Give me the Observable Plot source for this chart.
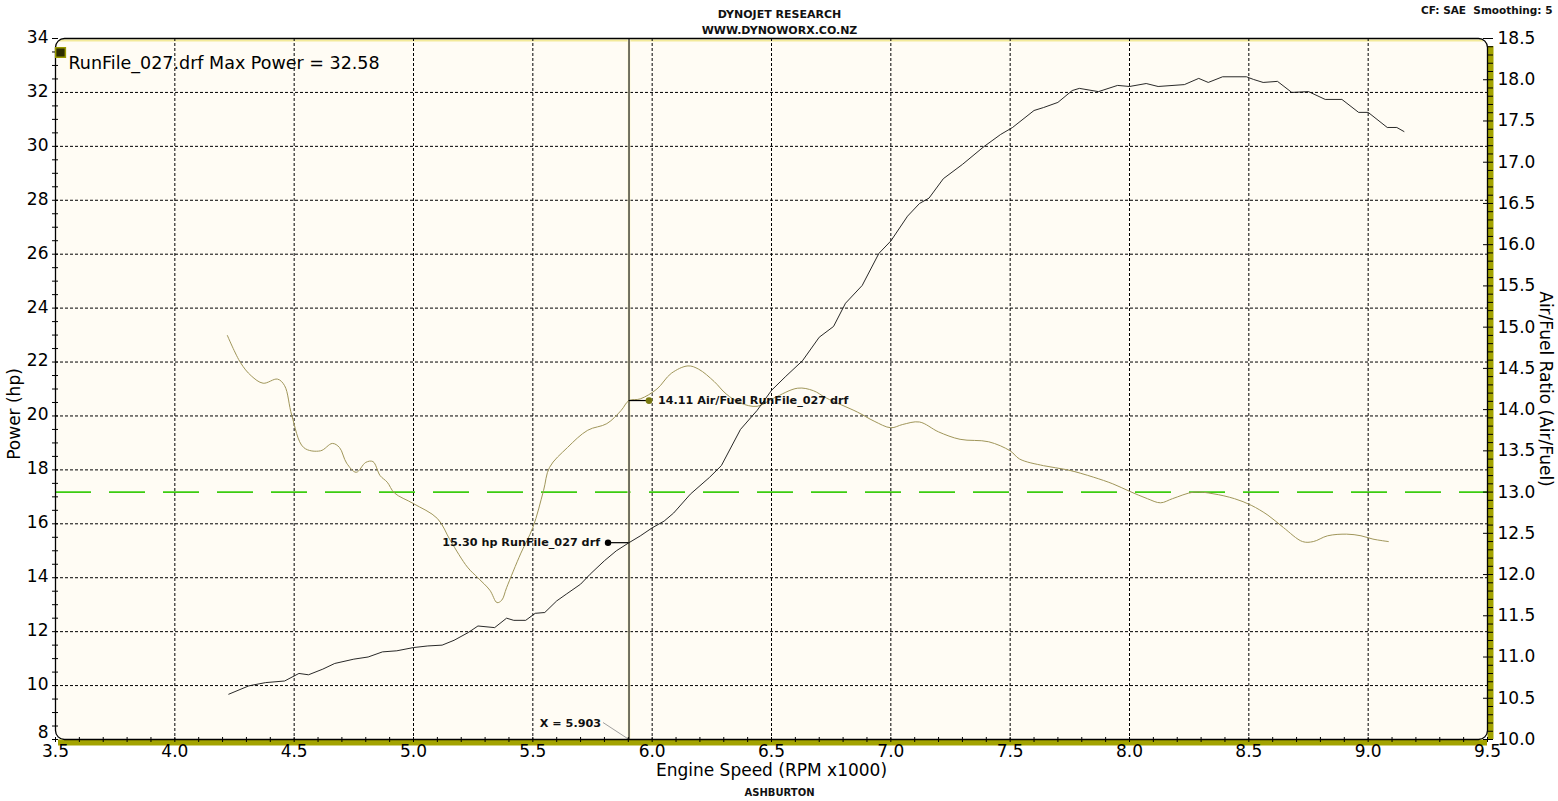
<!DOCTYPE html>
<html><head><meta charset="utf-8">
<script src="https://cdn.jsdelivr.net/npm/d3@7"></script>
<script src="https://cdn.jsdelivr.net/npm/@observablehq/plot@0.6"></script>
<style>body{margin:0;background:#fff;overflow:hidden}</style>
</head><body><div id="chart"></div>
<script>
// ---- data ----
const powerRpm = [4.226,4.31,4.38,4.46,4.52,4.56,4.62,4.67,4.75,4.81,4.87,4.93,5.00,5.06,5.12,5.17,5.23,5.27,5.34,5.39,5.42,5.47,5.51,5.55,5.60,5.64,5.70,5.74,5.80,5.85,5.903,5.95,6.00,6.05,6.09,6.16,6.24,6.29,6.37,6.44,6.50,6.56,6.63,6.70,6.76,6.81,6.88,6.95,7.00,7.07,7.12,7.16,7.22,7.30,7.39,7.46,7.51,7.60,7.64,7.70,7.76,7.79,7.87,7.95,8.00,8.07,8.12,8.23,8.29,8.33,8.39,8.49,8.52,8.56,8.62,8.68,8.75,8.82,8.89,8.96,9.00,9.08,9.12,9.15];
const powerHp = [9.68,9.99,10.11,10.17,10.45,10.40,10.61,10.82,10.98,11.06,11.25,11.29,11.41,11.47,11.50,11.68,11.97,12.21,12.15,12.50,12.42,12.42,12.68,12.71,13.14,13.39,13.76,14.13,14.63,15.00,15.30,15.55,15.85,16.10,16.40,17.10,17.72,18.16,19.50,20.21,20.95,21.47,22.05,22.92,23.32,24.18,24.84,26.03,26.49,27.41,27.88,28.08,28.80,29.33,29.99,30.44,30.70,31.33,31.44,31.63,32.07,32.15,32.03,32.26,32.22,32.33,32.22,32.29,32.52,32.37,32.58,32.58,32.48,32.37,32.41,32.00,32.03,31.74,31.74,31.26,31.26,30.70,30.70,30.55];
const afrRpm = [4.22,4.275,4.32,4.37,4.43,4.46,4.49,4.54,4.61,4.66,4.69,4.72,4.76,4.80,4.83,4.86,4.89,4.92,5.00,5.10,5.155,5.226,5.27,5.32,5.35,5.37,5.39,5.45,5.50,5.545,5.57,5.645,5.73,5.81,5.87,5.903,5.95,6.02,6.08,6.15,6.195,6.26,6.31,6.37,6.44,6.51,6.61,6.675,6.73,6.86,6.93,7.00,7.05,7.12,7.20,7.29,7.41,7.50,7.54,7.64,7.74,7.85,7.93,8.00,8.075,8.13,8.18,8.27,8.35,8.44,8.51,8.58,8.645,8.725,8.77,8.83,8.91,8.97,9.02,9.085];
const afrVal = [14.90,14.57,14.41,14.32,14.37,14.29,13.93,13.54,13.50,13.59,13.54,13.35,13.24,13.36,13.37,13.20,13.12,12.99,12.86,12.68,12.41,12.09,11.96,11.81,11.66,11.69,11.84,12.26,12.57,13.02,13.30,13.54,13.75,13.83,13.99,14.11,14.13,14.25,14.44,14.53,14.49,14.34,14.19,14.08,14.04,14.14,14.26,14.23,14.14,13.97,13.86,13.78,13.82,13.85,13.73,13.64,13.61,13.50,13.40,13.32,13.27,13.18,13.10,13.01,12.92,12.87,12.92,13.00,12.98,12.92,12.84,12.72,12.57,12.40,12.40,12.47,12.49,12.47,12.43,12.40];
const cursorRpm = [5.903];
const cursorHp = [15.30];
const cursorAfr = [14.11];
const targetAfr = [13.0];
const runName = "RunFile_027";
const xLabelTicks = [3.5,4.0,4.5,5.0,5.5,6.0,6.5,7.0,7.5,8.0,8.5,9.0,9.5];
const hpLabelTicks = [8,10,12,14,16,18,20,22,24,26,28,30,32,34];
const afrLabelTicks = [10.0,10.5,11.0,11.5,12.0,12.5,13.0,13.5,14.0,14.5,15.0,15.5,16.0,16.5,17.0,17.5,18.0,18.5];
const headerLine1 = "DYNOJET RESEARCH";
const headerLine2 = "WWW.DYNOWORX.CO.NZ";
const cornerNote = "CF: SAE\u00a0\u00a0Smoothing: 5";
const footer = "ASHBURTON";
const xTitle = "Engine Speed (RPM x1000)";
const yTitle = "Power (hp)";
const y2Title = "Air/Fuel Ratio (Air/Fuel)";

// ---- scales ----
const X0 = 3.5, X1 = 9.5, H0 = 8, H1 = 34, A0 = 10, A1 = 18.5;
const toHp = a => H0 + (a - A0) * (H1 - H0) / (A1 - A0);
const fromHp = h => A0 + (h - H0) * (A1 - A0) / (H1 - H0);
const power = powerRpm.map((r, i) => ({rpm: r, hp: powerHp[i]}));
const afr = afrRpm.map((r, i) => ({rpm: r, afr: afrVal[i]}));
const maxPower = d3.max(powerHp);
const xMinor = d3.range(35, 95.01, 1).map(d => d / 10);
const hpMinor = d3.range(16, 68.01, 1).map(d => d / 2);
const afrMinor = d3.range(100, 185.01, 1).map(d => toHp(d / 10));
const xGrid = xLabelTicks.slice(1, -1);
const hpGrid = hpLabelTicks.slice(1, -1);
const W = 1558, Hh = 801, mL = 55, mR = 71, mT = 38, mB = 62;
const kx = (X1 - X0) / (W - mL - mR);   // rpm per px
const ky = (H1 - H0) / (Hh - mT - mB);  // hp per px

const font = "DejaVu Sans, Verdana, sans-serif";
const olive = "#a3a300";
const afrColor = "#a0965a";
const bold = {fontWeight: "bold", fill: "#111"};

const chart = Plot.plot({
  width: W, height: Hh,
  marginLeft: mL, marginRight: mR, marginTop: mT, marginBottom: mB,
  style: {fontFamily: font, fontSize: "17px", background: "white", color: "black", overflow: "visible"},
  x: {domain: [X0, X1], axis: null},
  y: {domain: [H0, H1], axis: null},
  marks: [
    Plot.frame({fill: "#fffcf4", rx: 9}),
    Plot.ruleY([H1], {stroke: "#f3ea9a", strokeWidth: 2, dy: 2, x1: X0 + 4*kx, x2: X1 - 4*kx}),
    Plot.gridX(xGrid, {stroke: "black", strokeOpacity: 1, strokeDasharray: "3,2"}),
    Plot.gridY(hpGrid, {stroke: "black", strokeOpacity: 1, strokeDasharray: "3,2"}),
    Plot.ruleY(targetAfr, {y: d => toHp(d), stroke: "#3ccc10", strokeWidth: 1.6, strokeDasharray: "36,18"}),
    Plot.ruleX(cursorRpm, {stroke: "#fffad6", strokeWidth: 3}),
    Plot.ruleX(cursorRpm, {stroke: "black", strokeWidth: 1.1}),
    Plot.line(afr, {x: "rpm", y: d => toHp(d.afr), stroke: afrColor, strokeWidth: 1, curve: "catmull-rom"}),
    Plot.line(power, {x: "rpm", y: "hp", stroke: "#111", strokeWidth: 0.9}),
    // cursor readouts
    Plot.ruleY(cursorHp, {x1: cursorRpm[0] - 21*kx, x2: cursorRpm[0], stroke: "black", strokeWidth: 1.2}),
    Plot.dot(cursorHp, {x: cursorRpm[0] - 21*kx, y: d => d, r: 3.2, fill: "black"}),
    Plot.text(cursorHp, {x: cursorRpm[0] - 21*kx, y: d => d, dx: -8, textAnchor: "end", text: d => `${d.toFixed(2)} hp ${runName} drf`, fontSize: 11.2, ...bold}),
    Plot.ruleY(cursorAfr, {y: d => toHp(d), x1: cursorRpm[0], x2: cursorRpm[0] + 20*kx, stroke: "black", strokeWidth: 1.2}),
    Plot.dot(cursorAfr, {x: cursorRpm[0] + 20*kx, y: d => toHp(d), r: 3.4, fill: "#7a7a10"}),
    Plot.text(cursorAfr, {x: cursorRpm[0] + 20*kx, y: d => toHp(d), dx: 9, textAnchor: "start", text: d => `${d.toFixed(2)} Air/Fuel ${runName} drf`, fontSize: 11.2, ...bold}),
    Plot.link(cursorRpm, {x1: d => d - 26*kx, y1: H0 + 17*ky, x2: d => d, y2: H0, stroke: "#888", strokeWidth: 0.8}),
    Plot.text(cursorRpm, {x: d => d, y: H0, dx: -28, dy: -16, textAnchor: "end", text: d => `X = ${d.toFixed(3)}`, fontSize: 11.2, ...bold}),
    // olive bottom / right bands and black border lines
    Plot.ruleY([H0], {x1: X0 + 3*kx, x2: X1, stroke: olive, strokeWidth: 6, dy: 3}),
    Plot.ruleX([X1], {y1: H0, y2: H1 - 8*ky, stroke: olive, strokeWidth: 6, dx: 3}),
    Plot.frame({stroke: "black", strokeWidth: 1.3, rx: 9}),
    // ticks
    Plot.axisY({ticks: hpMinor, tickSize: 6, dx: 3, tickFormat: () => "", label: null}),
    Plot.axisY({ticks: hpLabelTicks.slice(1), tickSize: 0, tickPadding: 7, dy: -1, tickFormat: d => String(d), label: null, fontSize: 17}),
    Plot.axisY({ticks: hpLabelTicks.slice(0, 1), tickSize: 0, tickPadding: 7, dy: -7, tickFormat: d => String(d), label: null, fontSize: 17}),
    Plot.axisX({ticks: xMinor, tickSize: 5, dy: -2, tickFormat: () => "", label: null}),
    Plot.axisX({ticks: xLabelTicks, tickSize: 0, tickPadding: 5, tickFormat: d => d.toFixed(1), label: null, fontSize: 17}),
    Plot.axisY({anchor: "right", ticks: afrMinor, tickSize: 5, tickFormat: () => "", label: null}),
    Plot.axisY({anchor: "right", ticks: afrLabelTicks.map(toHp), tickSize: 5, dx: -5, tickFormat: () => "", label: null}),
    Plot.axisY({anchor: "right", ticks: afrLabelTicks.map(toHp), tickSize: 0, tickPadding: 10, tickFormat: d => fromHp(d).toFixed(1), label: null, fontSize: 17}),
    // titles
    Plot.text([yTitle], {text: d => d, frameAnchor: "left", textAnchor: "middle", rotate: -90, dx: -41, dy: 25, fontSize: 17}),
    Plot.text([y2Title], {text: d => d, frameAnchor: "right", textAnchor: "middle", rotate: 90, dx: 58, fontSize: 17}),
    Plot.text([xTitle], {text: d => d, frameAnchor: "bottom", dy: 36, fontSize: 17}),
    Plot.text([headerLine1], {text: d => d, frameAnchor: "top", dx: 8, dy: -28, fontSize: 11, ...bold}),
    Plot.text([headerLine2], {text: d => d, frameAnchor: "top", dx: 8, dy: -12, fontSize: 11, ...bold}),
    Plot.text([cornerNote], {text: d => d, frameAnchor: "top-right", textAnchor: "end", dx: 65, dy: -32, fontSize: 10.5, ...bold}),
    Plot.text([footer], {text: d => d, frameAnchor: "bottom", dx: 8, dy: 56, fontSize: 10, ...bold}),
    // legend
    Plot.dot([0], {frameAnchor: "top-left", dx: 5, dy: 14, symbol: "square", r: 5.5, fill: "#2e2e00", stroke: "#9a9a00", strokeWidth: 1.5}),
    Plot.text([`${runName}.drf Max Power = ${maxPower.toFixed(2)}`], {text: d => d, frameAnchor: "top-left", dx: 13, dy: 18, textAnchor: "start", fontSize: 17.5})
  ]
});
document.getElementById("chart").appendChild(chart);
</script>
</body></html>
